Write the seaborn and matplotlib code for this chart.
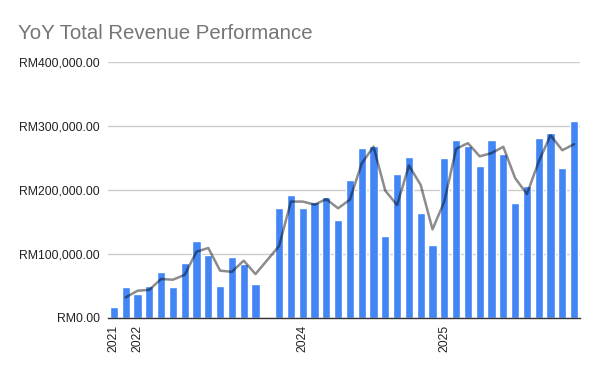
import pandas as pd
import numpy as np
import matplotlib
matplotlib.use('Agg')
import matplotlib.pyplot as plt
import seaborn as sns

# --- Data (monthly revenue, RM) ---
months = [
    '2021-11', '2021-12',
    '2022-01', '2022-02', '2022-03', '2022-04', '2022-05', '2022-06',
    '2022-07', '2022-08', '2022-09', '2022-10', '2022-11', '2022-12',
    '2023-11', '2023-12',
    '2024-01', '2024-02', '2024-03', '2024-04', '2024-05', '2024-06',
    '2024-07', '2024-08', '2024-09', '2024-10', '2024-11', '2024-12',
    '2025-01', '2025-02', '2025-03', '2025-04', '2025-05', '2025-06',
    '2025-07', '2025-08', '2025-09', '2025-10', '2025-11', '2025-12',
]
revenue = [
    16000, 47000,
    36700, 50000, 70600, 47700, 86000, 120000,
    97700, 49000, 94000, 84000, 52000, None,
    172000, 191000,
    172000, 181500, 189000, 153000, 216000, 266000,
    269000, 128000, 224000, 252000, 163000, 113000,
    250000, 278000, 268000, 236700, 278000, 256500,
    180000, 206500, 281500, 289000, 234700, 308000,
]
tick_labels = ['2021', '2022', '2024', '2025']
tick_months = ['2021-11', '2022-01', '2024-01', '2025-01']

df = pd.DataFrame({'month': months, 'revenue': revenue})
df['slot'] = range(len(df))

# 2-period moving average trendline (blank months skipped)
trend = df.dropna(subset=['revenue']).copy()
trend['ma'] = trend['revenue'].rolling(2).mean()
trend = trend.dropna(subset=['ma'])

# --- Plot ---
sns.set_theme(style='white')
plt.rcParams['font.family'] = ['Liberation Sans', 'DejaVu Sans']

fig, ax = plt.subplots(figsize=(6, 3.71), dpi=100)
fig.subplots_adjust(left=108/600, right=580/600, top=1-62/371, bottom=1-317.5/371)

sns.barplot(data=df, x='slot', y='revenue', order=list(range(len(df))),
            color='#4285F4', saturation=1, width=0.68, ax=ax)
sns.lineplot(data=trend, x='slot', y='ma', color='black', alpha=0.45,
             linewidth=1.8, ax=ax)

ax.set_xlim(-0.5, len(df) - 0.5)
ax.set_ylim(0, 400000)
ax.set_yticks([0, 100000, 200000, 300000, 400000])
ax.set_yticklabels(['RM0.00', 'RM100,000.00', 'RM200,000.00',
                    'RM300,000.00', 'RM400,000.00'])
ax.set_xticks([months.index(m) for m in tick_months])
ax.set_xticklabels(tick_labels, rotation=90)
ax.set_xlabel('')
ax.set_ylabel('')

ax.yaxis.grid(True, color='#cccccc', linewidth=1)
ax.set_axisbelow(True)
for side in ['left', 'top', 'right']:
    ax.spines[side].set_visible(False)
ax.spines['bottom'].set_color('#333333')
ax.spines['bottom'].set_linewidth(1)
ax.tick_params(axis='y', length=4, color='#cccccc', labelsize=8.8,
               labelcolor='#222222', pad=2)
ax.tick_params(axis='x', length=3, color='#333333', labelsize=8.8,
               labelcolor='#222222', pad=2)

fig.text(18/600, 1-39/371, 'YoY Total Revenue Performance', fontsize=14.7,
         color='#757575')

fig.savefig('out.png', dpi=100)
